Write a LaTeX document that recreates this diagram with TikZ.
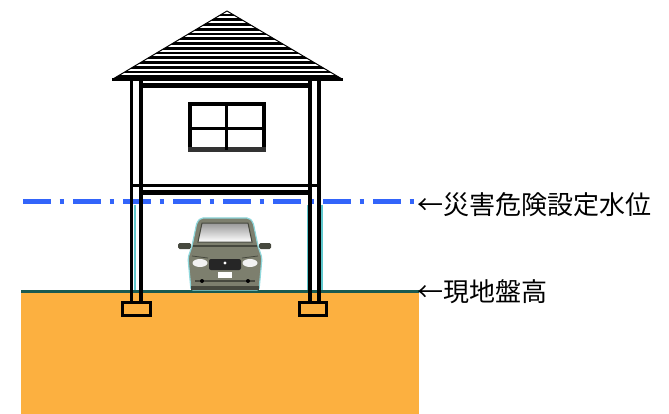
\documentclass[tikz,border=0pt]{standalone}
\usepackage{fontspec}
\newfontfamily\jpfont{Noto Sans CJK JP}

\definecolor{soil}{RGB}{252,176,64}
\definecolor{groundline}{RGB}{25,90,80}
\definecolor{floodblue}{RGB}{50,100,250}
\definecolor{carbody}{RGB}{125,127,110}
\definecolor{cardark}{RGB}{70,72,62}
\definecolor{glow}{RGB}{95,200,205}

\begin{document}
\begin{tikzpicture}[x=1pt,y=-1pt,
  jptext/.style={font=\jpfont\fontsize{26}{30}\selectfont, inner sep=0pt, anchor=west},
  post/.style={line width=3.5pt},
  footing/.style={draw, line width=3pt, fill=soil}]
\useasboundingbox (0,0) rectangle (669,414);

% ground
\fill[soil] (21,291) rectangle (419,414);
\draw[groundline, line width=3pt] (21,291) -- (419,291);

% roof
\fill[white] (113,79) -- (227,11) -- (342,79) -- cycle;
\begin{scope}
\clip (113,79) -- (227,11) -- (342,79) -- cycle;
\foreach \y in {15,19.75,...,77}
  \draw[line width=2.8pt] (100,\y) -- (350,\y);
\end{scope}
\draw[line width=1pt, line join=round] (113,79) -- (227,11) -- (342,79);
\draw[line width=3pt] (112,80) -- (343,80);

% window
\draw[line width=4pt] (190,104) rectangle (264,150);
\fill[black!80] (188,147) rectangle (266,152);
\draw[line width=3pt] (226.3,104) -- (226.3,150);
\draw[line width=3.5pt] (190,128.3) -- (264,128.3);

% beams
\fill (141,83) rectangle (310,88);
\draw[line width=2.5pt] (130,185.5) -- (320,185.5);
\fill (141,190) rectangle (310,195);

% car
\fill[cardark, rounded corners=1.5pt] (178,243) rectangle (191,249);
\fill[cardark, rounded corners=1.5pt] (259,243) rectangle (271,249);
\draw[glow!70, line width=1.2pt, fill=carbody, rounded corners=2pt]
  (191,290) -- (188,258) -- (192,246) -- (197,222) -- (201,218) -- (249,218)
  -- (253,222) -- (258,246) -- (262,258) -- (259,290) -- cycle;
\shade[top color=gray!80, bottom color=white, draw=cardark, line width=1pt]
  (202,223) -- (248,223) -- (252,242) -- (198,242) -- cycle;
\draw[cardark, line width=1.5pt] (193,246) -- (257,246);
\draw[cardark, line width=0.8pt] (192,256) -- (208,258);
\draw[cardark, line width=0.8pt] (258,256) -- (242,258);
\fill[white!90!gray] (200,263) ellipse (7.5 and 4);
\fill[white!90!gray] (250,263) ellipse (7.5 and 4);
\fill[black!85, rounded corners=2pt] (209,259) rectangle (241,270);
\fill[white] (225,263) circle (1.6);
\fill[white] (218,272) rectangle (232,278);
\draw[cardark, line width=1.5pt] (195,281) -- (255,281);
\fill[black] (202,281) circle (2);
\fill[black] (248,281) circle (2);
\fill[cardark] (191,286) rectangle (259,290);

% design flood level
\draw[floodblue, line width=5pt, dash pattern=on 28pt off 8.5pt on 4pt off 9.5pt]
  (23,202) -- (413.5,202);

% posts
\draw[glow, line width=2pt] (134.5,205) -- (134.5,290);
\draw[glow, line width=2pt] (307.5,205) -- (307.5,290);
\draw[glow, line width=2pt] (321.5,205) -- (321.5,290);
\draw[post] (131.5,81) -- (131.5,301);
\draw[post] (141,81) -- (141,301);
\draw[post] (310,81) -- (310,301);
\draw[post] (319,81) -- (319,301);

% footings
\draw[footing] (122.5,302.5) rectangle (150.5,315.5);
\draw[footing] (299.5,302.5) rectangle (326.5,315.5);

% labels
\node[jptext] (floodlevel) at (417,205) {←災害危険設定水位};
\node[jptext] (groundlevel) at (417,292) {←現地盤高};
\end{tikzpicture}
\end{document}
